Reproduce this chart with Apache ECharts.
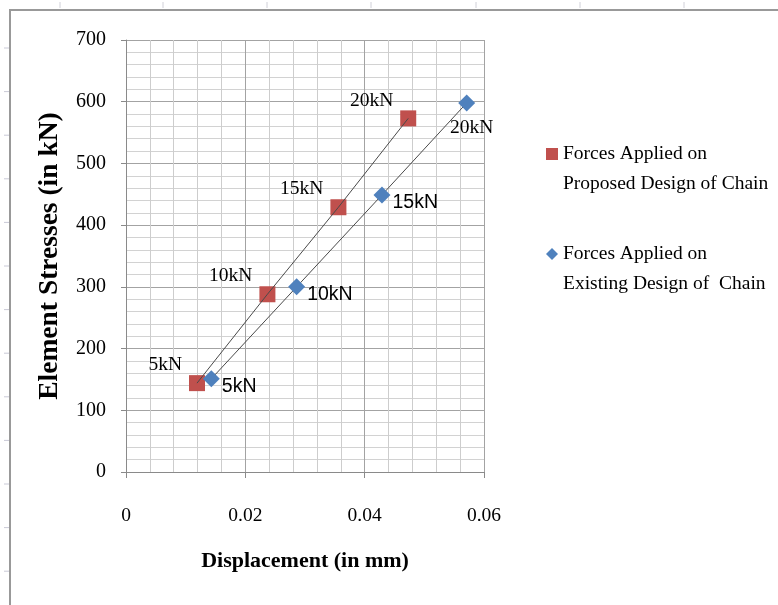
<!DOCTYPE html>
<html>
<head>
<meta charset="utf-8">
<script src="https://cdn.jsdelivr.net/npm/echarts@6/dist/echarts.min.js"></script>
<style>
  html, body { margin: 0; padding: 0; background: #fff; }
  #chart { width: 778px; height: 605px; }
</style>
</head>
<body>
<div id="chart"></div>
<script>
// ---- data ----
const forceLabels = ['5kN', '10kN', '15kN', '20kN'];
const proposedX = [0.0119, 0.0237, 0.0356, 0.0473];
const proposedY = [144, 288, 429, 573];
const existingX = [0.0143, 0.0286, 0.0429, 0.0571];
const existingY = [151, 300, 449, 598];
const xTicks = [0, 0.02, 0.04, 0.06];
const yTicks = [0, 100, 200, 300, 400, 500, 600, 700];
const nameProposed = 'Forces Applied on\nProposed Design of Chain';
const nameExisting = 'Forces Applied on\nExisting Design of  Chain';

const serif = '"Liberation Serif", "Times New Roman", serif';
const narrow = '"Liberation Sans Narrow", "Liberation Sans", sans-serif';

const pairs = (xs, ys) => xs.map((x, i) => [x, ys[i]]);

const existingData = pairs(existingX, existingY).map(v => ({ value: v }));
// last blue label sits below the marker in the reference
existingData[existingData.length - 1].label = {
  position: 'bottom', distance: 4, offset: [5, 2], fontFamily: serif, fontSize: 19.5
};

const chart = echarts.init(document.getElementById('chart'), null, { renderer: 'canvas' });

const ruleTicksLeft = [];
for (let y = 48; y < 605; y += 43.6) {
  ruleTicksLeft.push({ type: 'line', shape: { x1: 4, y1: y, x2: 9, y2: y }, style: { stroke: '#c9c9d6', lineWidth: 1 }, silent: true });
}
const ruleTicksTop = [60, 163, 267, 371, 476, 580, 684].map(x => ({
  type: 'line', shape: { x1: x, y1: 2, x2: x, y2: 8 }, style: { stroke: '#d0d0d8', lineWidth: 1 }, silent: true
}));

chart.setOption({
  animation: false,
  backgroundColor: '#fff',
  graphic: [
    { type: 'polyline', shape: { points: [[10, 605], [10, 10], [778, 10]] }, style: { stroke: '#999', lineWidth: 2, fill: null }, silent: true }
  ].concat(ruleTicksLeft, ruleTicksTop),
  grid: { left: 126, right: 294, top: 40, bottom: 133, containLabel: false },
  legend: {
    orient: 'vertical',
    left: 541,
    top: 104,
    itemWidth: 12,
    itemHeight: 12,
    itemGap: 10,
    data: [
      { name: nameProposed, icon: 'rect' },
      { name: nameExisting, icon: 'diamond' }
    ],
    formatter: name => '\n' + name,
    textStyle: { fontFamily: serif, fontSize: 19.5, lineHeight: 30, color: '#000' }
  },
  xAxis: {
    type: 'value',
    min: xTicks[0],
    max: xTicks[xTicks.length - 1],
    interval: xTicks[1] - xTicks[0],
    name: 'Displacement (in mm)',
    nameLocation: 'middle',
    nameGap: 78,
    nameTextStyle: { fontFamily: serif, fontWeight: 'bold', fontSize: 22, color: '#000' },
    axisLine: { show: true, lineStyle: { color: '#8a8a8a', width: 1 } },
    axisTick: { show: true, length: 6, lineStyle: { color: '#8a8a8a' } },
    minorTick: { show: false, splitNumber: 5 },
    axisLabel: {
      margin: 34, fontFamily: serif, fontSize: 19.5, color: '#000',
      formatter: v => (v === 0 ? '0' : v.toFixed(2))
    },
    splitLine: { show: true, lineStyle: { color: '#a3a3a3', width: 1 } },
    minorSplitLine: { show: true, lineStyle: { color: '#cdcdcd', width: 1 } }
  },
  yAxis: {
    type: 'value',
    min: yTicks[0],
    max: yTicks[yTicks.length - 1],
    interval: yTicks[1] - yTicks[0],
    name: 'Element Stresses (in kN)',
    nameLocation: 'middle',
    nameGap: 62,
    nameTextStyle: { fontFamily: serif, fontWeight: 'bold', fontSize: 27.5, color: '#000' },
    axisLine: { show: true, lineStyle: { color: '#8a8a8a', width: 1 } },
    axisTick: { show: true, length: 5, lineStyle: { color: '#8a8a8a' } },
    minorTick: { show: false, splitNumber: 5 },
    axisLabel: { margin: 20, fontFamily: serif, fontSize: 20, color: '#000' },
    splitLine: { show: true, lineStyle: { color: '#a3a3a3', width: 1 } },
    minorSplitLine: { show: true, lineStyle: { color: '#d2d2d2', width: 1 } }
  },
  series: [
    {
      name: 'lineProposed', type: 'line', data: pairs(proposedX, proposedY),
      symbol: 'none', silent: true, z: 2,
      lineStyle: { color: '#4a4a4a', width: 1 }
    },
    {
      name: 'lineExisting', type: 'line', data: pairs(existingX, existingY),
      symbol: 'none', silent: true, z: 2,
      lineStyle: { color: '#4a4a4a', width: 1 }
    },
    {
      name: nameProposed, type: 'scatter', data: pairs(proposedX, proposedY),
      symbol: 'rect', symbolSize: 16, z: 1,
      itemStyle: { color: '#C0504D', opacity: 1 },
      label: {
        show: true, position: 'left', distance: 7, offset: [0, -18],
        fontFamily: serif, fontSize: 19.5, color: '#000',
        formatter: p => forceLabels[p.dataIndex]
      }
    },
    {
      name: nameExisting, type: 'scatter', data: existingData,
      symbol: 'diamond', symbolSize: 17, z: 3,
      itemStyle: { color: '#4F81BD', opacity: 1 },
      label: {
        show: true, position: 'right', distance: 2, offset: [0, 8],
        fontFamily: narrow, fontSize: 19.5, color: '#000',
        formatter: p => forceLabels[p.dataIndex]
      }
    }
  ]
});
</script>
</body>
</html>
